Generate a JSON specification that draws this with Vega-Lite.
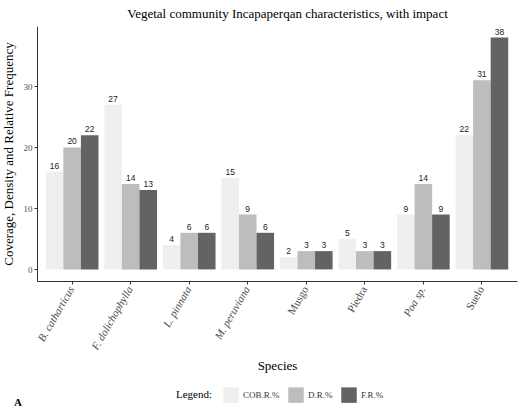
{
  "$schema": "https://vega.github.io/schema/vega-lite/v6.json",
  "autosize": {"type": "none"},
  "padding": {"left": 37, "top": 26, "right": 2, "bottom": 127},
  "width": 480,
  "height": 255,
  "background": "white",
  "title": {"text": "A", "orient": "bottom", "anchor": "start", "frame": "group", "dx": -23, "offset": -6, "font": "Liberation Serif", "fontSize": 11, "fontWeight": "bold", "color": "black"},
  "data": {"values": [
    {"species": "B. catharticus", "series": "COB.R.%", "value": 16},
    {"species": "B. catharticus", "series": "D.R.%", "value": 20},
    {"species": "B. catharticus", "series": "F.R.%", "value": 22},
    {"species": "F. dolichophylla", "series": "COB.R.%", "value": 27},
    {"species": "F. dolichophylla", "series": "D.R.%", "value": 14},
    {"species": "F. dolichophylla", "series": "F.R.%", "value": 13},
    {"species": "L. pinnata", "series": "COB.R.%", "value": 4},
    {"species": "L. pinnata", "series": "D.R.%", "value": 6},
    {"species": "L. pinnata", "series": "F.R.%", "value": 6},
    {"species": "M. peruviana", "series": "COB.R.%", "value": 15},
    {"species": "M. peruviana", "series": "D.R.%", "value": 9},
    {"species": "M. peruviana", "series": "F.R.%", "value": 6},
    {"species": "Musgo", "series": "COB.R.%", "value": 2},
    {"species": "Musgo", "series": "D.R.%", "value": 3},
    {"species": "Musgo", "series": "F.R.%", "value": 3},
    {"species": "Piedra", "series": "COB.R.%", "value": 5},
    {"species": "Piedra", "series": "D.R.%", "value": 3},
    {"species": "Piedra", "series": "F.R.%", "value": 3},
    {"species": "Poa sp.", "series": "COB.R.%", "value": 9},
    {"species": "Poa sp.", "series": "D.R.%", "value": 14},
    {"species": "Poa sp.", "series": "F.R.%", "value": 9},
    {"species": "Suelo", "series": "COB.R.%", "value": 22},
    {"species": "Suelo", "series": "D.R.%", "value": 31},
    {"species": "Suelo", "series": "F.R.%", "value": 38}
  ]},
  "encoding": {
    "xOffset": {"field": "series", "type": "nominal", "sort": ["COB.R.%", "D.R.%", "F.R.%"], "scale": {"paddingInner": 0, "paddingOuter": 0}},
    "y": {"field": "value", "type": "quantitative",
      "scale": {"domain": [-1.9, 39.9], "nice": false, "zero": false},
      "axis": {"title": "Coverage, Density and Relative Frequency", "values": [0, 10, 20, 30], "grid": false,
        "labelFont": "Liberation Serif", "labelFontSize": 9, "labelColor": "#4d4d4d",
        "titleFont": "Liberation Serif", "titleFontSize": 13, "titleFontWeight": "normal", "titleColor": "black", "titlePadding": 8,
        "domainColor": "#333333", "tickColor": "#333333", "tickSize": 3, "labelPadding": 2}}
  },
  "layer": [
    {"mark": {"type": "bar"},
     "encoding": {
      "x": {"field": "species", "type": "nominal", "sort": null,
        "scale": {"paddingInner": 0.1, "paddingOuter": 0.15},
        "axis": {"title": "Species", "labelAngle": -60, "labelAlign": "right", "labelBaseline": "middle",
          "labelFont": "Liberation Serif", "labelFontSize": 11, "labelColor": "#4d4d4d",
          "labelFontStyle": {"condition": {"test": "indexof(['Musgo','Piedra','Suelo'], datum.value) >= 0", "value": "normal"}, "value": "italic"},
          "titleFont": "Liberation Serif", "titleFontSize": 13, "titleFontWeight": "normal", "titleColor": "black", "titlePadding": 8,
          "domainColor": "#333333", "tickColor": "#333333", "tickSize": 3, "labelPadding": 3}},
      "color": {"field": "series", "type": "nominal", "sort": ["COB.R.%", "D.R.%", "F.R.%"],
       "scale": {"domain": ["COB.R.%", "D.R.%", "F.R.%"], "range": ["#efefef", "#bdbdbd", "#636363"]},
       "legend": {"title": "Legend:", "orient": "none", "legendX": 139, "legendY": 361, "direction": "horizontal", "titleOrient": "left",
         "symbolType": "square", "symbolSize": 240, "symbolStrokeWidth": 0, "symbolOpacity": 1,
         "labelFont": "Liberation Serif", "labelFontSize": 9, "labelColor": "#333333",
         "titleFont": "Liberation Serif", "titleFontSize": 11, "titleFontWeight": "normal", "titleColor": "black", "titlePadding": 10, "columnPadding": 8, "labelOffset": 4}}}},
    {"mark": {"type": "text", "dy": -6, "font": "Liberation Sans", "fontSize": 8.5, "color": "#222222"},
     "encoding": {
      "x": {"field": "species", "type": "nominal", "sort": null,
        "axis": {"orient": "top", "title": "Vegetal community Incapaperqan characteristics, with impact", "labels": false, "ticks": false, "domain": false,
          "titleFont": "Liberation Serif", "titleFontSize": 13, "titleFontWeight": "normal", "titleColor": "black", "titlePadding": 6, "titleX": 250}},
      "text": {"field": "value", "type": "quantitative"}}}
  ],
  "resolve": {"axis": {"x": "independent"}},
  "config": {"view": {"stroke": null}, "legend": {"titleFontWeight": "normal"}}
}
